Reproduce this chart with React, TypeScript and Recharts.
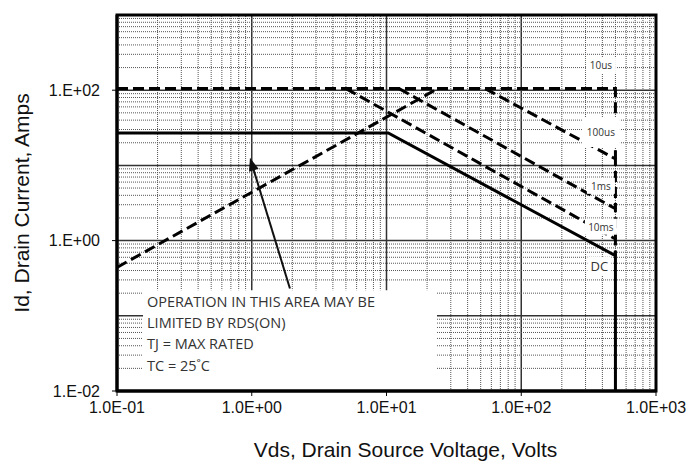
import React from 'react';
import { LineChart, Line, XAxis, YAxis, ReferenceLine, ReferenceArea, ReferenceDot, Label } from 'recharts';

// ---- axis ticks ----
const xTicks = [0.1, 1, 10, 100, 1000];
const xTickLabels = ['1.0E-01', '1.0E+00', '1.0E+01', '1.0E+02', '1.0E+03'];
const yTicks = [0.01, 1, 100];
const yTickLabels = ['1.E-02', '1.E+00', '1.E+02'];

// ---- SOA boundaries (Vds in V, Id in A) ----
const dcCurve = [
  { v: 0.1, i: 27 },
  { v: 10.3, i: 27 },
  { v: 500, i: 0.63 },
  { v: 500, i: 0.01 },
];
const rdsLimit = [
  { v: 0.1, i: 0.44 },
  { v: 24, i: 105 },
];
const us10Curve = [
  { v: 0.1, i: 105 },
  { v: 500, i: 105 },
  { v: 500, i: 12.2 },
];
const us100Curve = [
  { v: 54, i: 105 },
  { v: 500, i: 12.2 },
  { v: 500, i: 2.65 },
];
const ms1Curve = [
  { v: 12.4, i: 105 },
  { v: 500, i: 2.65 },
  { v: 500, i: 1.05 },
];
const ms10Curve = [
  { v: 5, i: 105 },
  { v: 500, i: 1.05 },
  { v: 500, i: 0.63 },
];

const curveLabels = [
  { v: 390, i: 214, text: '10us', size: 10, w: 30, h: 16 },
  { v: 390, i: 27.8, text: '100us', size: 10, w: 38, h: 30 },
  { v: 390, i: 5.35, text: '1ms', size: 10, w: 28, h: 16 },
  { v: 390, i: 1.53, text: '10ms', size: 10, w: 32, h: 16 },
  { v: 380, i: 0.46, text: 'DC', size: 13, w: 24, h: 18 },
];

const noteLines = ['OPERATION IN THIS AREA MAY BE', 'LIMITED BY RDS(ON)', 'TJ = MAX RATED', 'TC = 25˚C'];
const noteBox = { x1: 0.156, x2: 23.7, y1: 0.01, y2: 0.218 };
const arrowSeg = [
  { x: 1.92, y: 0.231 },
  { x: 0.97, y: 12.6 },
];

// grid values (1..9 x decade)
const decadeMultipliers = [1, 2, 3, 4, 5, 6, 7, 8, 9];
const xDecades = [0.1, 1, 10, 100];
const yDecades = [0.01, 0.1, 1, 10, 100];

const gridX: { val: number; major: boolean }[] = [];
xDecades.forEach((d) => decadeMultipliers.forEach((m) => {
  const val = +(d * m).toPrecision(3);
  if (val > 0.1) gridX.push({ val, major: m === 1 });
}));
const gridY: { val: number; major: boolean }[] = [];
yDecades.forEach((d) => decadeMultipliers.forEach((m) => {
  const val = +(d * m).toPrecision(3);
  if (val > 0.01) gridY.push({ val, major: m === 1 });
}));

const FONT = '"Liberation Sans", Arial, sans-serif';
const NOTE_FONT = '"Open Sans", "Liberation Sans", sans-serif';

const ArrowShape = (p: any) => {
  const { x1, y1, x2, y2 } = p;
  const dx = x2 - x1, dy = y2 - y1;
  const len = Math.sqrt(dx * dx + dy * dy) || 1;
  const ux = dx / len, uy = dy / len;
  const hl = 13, hw = 5;
  const bx = x2 - ux * hl, by = y2 - uy * hl;
  const pts = `${x2},${y2} ${bx - uy * hw},${by + ux * hw} ${bx + uy * hw},${by - ux * hw}`;
  return (
    <g>
      <line x1={x1} y1={y1} x2={bx + ux * 2} y2={by + uy * 2} stroke="#111" strokeWidth={2} />
      <polygon points={pts} fill="#111" />
    </g>
  );
};

const makeLabelShape = (text: string, size: number, w: number, h: number) => (p: any) => {
  const { cx, cy } = p;
  return (
    <g>
      <rect x={cx - w / 2} y={cy - h / 2} width={w} height={h} fill="#fff" />
      <text x={cx} y={cy} textAnchor="middle" dominantBaseline="central" fontSize={size} fill="#333" fontFamily={NOTE_FONT}>
        {text}
      </text>
    </g>
  );
};

const NoteShape = (p: any) => {
  const { cx, cy } = p;
  return (
    <g>
      {noteLines.map((t, k) => (
        <text key={k} x={cx + 4} y={cy + 11 + k * 21.3} dominantBaseline="central" fontSize={14.5} fill="#333" fontFamily={NOTE_FONT}>
          {t}
        </text>
      ))}
    </g>
  );
};

const dashed = '11 5';

export default function App() {
  return (
    <div style={{ position: 'absolute', left: 0, top: 0, width: 693, height: 464, background: '#fff' }}>
      <LineChart width={693} height={464} margin={{ top: 15, right: 37, bottom: 0, left: 0 }}>
        <XAxis
          dataKey="v"
          type="number"
          scale="log"
          domain={[0.1, 1000]}
          allowDataOverflow
          ticks={xTicks}
          tickFormatter={(v: number) => xTickLabels[xTicks.indexOf(v)] ?? ''}
          height={73}
          axisLine={{ stroke: '#000', strokeWidth: 3 }}
          tickLine={{ stroke: '#000' }}
          tickSize={5}
          tickMargin={6}
          tick={{ fill: '#111', fontSize: 16, fontFamily: FONT }}
        >
          <Label value="Vds, Drain Source Voltage, Volts" position="insideBottom" offset={7} dx={19} style={{ fontSize: 21, fontFamily: FONT, fill: '#111' }} />
        </XAxis>
        <YAxis
          dataKey="i"
          type="number"
          scale="log"
          domain={[0.01, 1000]}
          allowDataOverflow
          ticks={yTicks}
          tickFormatter={(v: number) => yTickLabels[yTicks.indexOf(v)] ?? ''}
          width={117}
          axisLine={{ stroke: '#000', strokeWidth: 3 }}
          tickLine={{ stroke: '#000' }}
          tickSize={5}
          tickMargin={12}
          tick={{ fill: '#111', fontSize: 16, fontFamily: FONT }}
        >
          <Label value="Id, Drain Current, Amps" angle={-90} position="insideLeft" offset={22} style={{ fontSize: 21, fontFamily: FONT, fill: '#111', textAnchor: 'middle' }} />
        </YAxis>

        {gridX.map((g) => (
          <ReferenceLine
            key={'gx' + g.val}
            x={g.val}
            stroke={g.major ? '#333' : '#555'}
            strokeWidth={g.major ? 1.5 : 1}
            strokeDasharray={g.major ? undefined : '1 1'}
            zIndex={-100}
          />
        ))}
        {gridY.map((g) => (
          <ReferenceLine
            key={'gy' + g.val}
            y={g.val}
            stroke={g.major ? '#333' : '#555'}
            strokeWidth={g.major ? 1.5 : 1}
            strokeDasharray={g.major ? undefined : '1 1'}
            zIndex={-100}
          />
        ))}

        <ReferenceArea x1={noteBox.x1} x2={noteBox.x2} y1={noteBox.y1} y2={noteBox.y2} fill="#fff" fillOpacity={1} stroke="none" zIndex={-50} />

        <Line data={us10Curve} dataKey="i" stroke="#000" strokeWidth={3} strokeDasharray={dashed} dot={false} isAnimationActive={false} />
        <Line data={us100Curve} dataKey="i" stroke="#000" strokeWidth={3} strokeDasharray={dashed} dot={false} isAnimationActive={false} />
        <Line data={ms1Curve} dataKey="i" stroke="#000" strokeWidth={3} strokeDasharray={dashed} dot={false} isAnimationActive={false} />
        <Line data={ms10Curve} dataKey="i" stroke="#000" strokeWidth={3} strokeDasharray={dashed} dot={false} isAnimationActive={false} />
        <Line data={rdsLimit} dataKey="i" stroke="#000" strokeWidth={3} strokeDasharray={dashed} dot={false} isAnimationActive={false} />
        <Line data={dcCurve} dataKey="i" stroke="#000" strokeWidth={3} dot={false} isAnimationActive={false} />

        {curveLabels.map((l) => (
          <ReferenceDot key={l.text} x={l.v} y={l.i} r={0} shape={makeLabelShape(l.text, l.size, l.w, l.h)} zIndex={1500} />
        ))}

        <ReferenceLine segment={arrowSeg} shape={ArrowShape} zIndex={1500} />
        <ReferenceDot x={noteBox.x1} y={noteBox.y2} r={0} shape={NoteShape} zIndex={1500} />

        <ReferenceArea x1={0.1} x2={1000} y1={0.01} y2={1000} fill="none" stroke="#000" strokeWidth={3} zIndex={1600} />
      </LineChart>
    </div>
  );
}
